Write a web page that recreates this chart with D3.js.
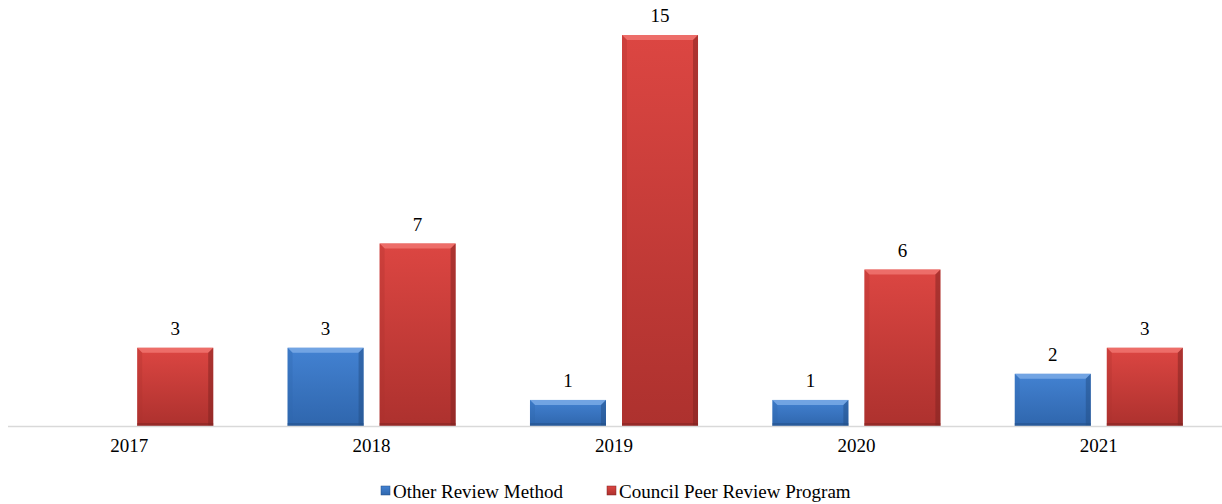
<!DOCTYPE html>
<html>
<head>
<meta charset="utf-8">
<script src="https://cdn.jsdelivr.net/npm/d3@7"></script>
<style>
  body { margin: 0; background: #fff; }
</style>
</head>
<body>
<script>
// values
const years = ["2017", "2018", "2019", "2020", "2021"];
const seriesNames = ["Other Review Method", "Council Peer Review Program"];
const otherReview = [0, 3, 1, 1, 2];
const councilPeer = [3, 7, 15, 6, 3];

const W = 1222, H = 504;
const FONT = "'Liberation Serif', 'Times New Roman', Times, serif";
const svg = d3.select("body").append("svg").attr("width", W).attr("height", H)
  .style("font-family", FONT);

// colours per series
const pal = [
  { light: "#7aaae6", mid: "#4382d2", dark: "#2f66ad", edge: "#224d85" },
  { light: "#f07470", mid: "#dc4642", dark: "#ad312e", edge: "#7e2220" }
];

const defs = svg.append("defs");
pal.forEach((p, i) => {
  const g = defs.append("linearGradient").attr("id", "g" + i)
    .attr("x1", 0).attr("y1", 0).attr("x2", 0).attr("y2", 1);
  g.append("stop").attr("offset", "0%").attr("stop-color", p.mid);
  g.append("stop").attr("offset", "100%").attr("stop-color", p.dark);
});

const x0 = d3.scaleBand().domain(years).range([8, 1220]);
const x1 = d3.scaleBand().domain([0, 1]).range([0, x0.bandwidth()]).paddingInner(0.174).paddingOuter(0.404);
const y = d3.scaleLinear().domain([0, 15]).range([426, 35]);

const data = [];
years.forEach((yr, i) => {
  [otherReview[i], councilPeer[i]].forEach((v, s) => {
    if (v > 0) data.push({ yr, s, v });
  });
});

const bars = svg.append("g").selectAll("g").data(data).join("g")
  .attr("transform", d => `translate(${x0(d.yr) + x1(d.s)},${y(d.v)})`);

const bw = x1.bandwidth();
const bev = 5;
bars.each(function (d) {
  const g = d3.select(this);
  const h = y(0) - y(d.v);
  const p = pal[d.s];
  g.append("rect").attr("width", bw).attr("height", h).attr("fill", `url(#g${d.s})`);
  // top bevel
  g.append("polygon").attr("points", `0,0 ${bw},0 ${bw - bev},${bev} ${bev},${bev}`)
    .attr("fill", p.light).attr("opacity", 0.85);
  // left bevel
  g.append("polygon").attr("points", `0,0 ${bev},${bev} ${bev},${h} 0,${h}`)
    .attr("fill", p.dark).attr("opacity", 0.3);
  // right bevel
  g.append("polygon").attr("points", `${bw},0 ${bw},${h} ${bw - bev},${h} ${bw - bev},${bev}`)
    .attr("fill", p.edge).attr("opacity", 0.5);
  // bottom edge
  g.append("rect").attr("x", 0).attr("y", h - 3).attr("width", bw).attr("height", 3)
    .attr("fill", p.edge).attr("opacity", 0.5);
  g.append("text").attr("x", bw / 2).attr("y", -13)
    .attr("text-anchor", "middle").attr("font-size", 19).attr("fill", "#000").text(d.v);
});

// baseline
svg.append("line").attr("x1", 8).attr("x2", 1222).attr("y1", 426.5).attr("y2", 426.5)
  .attr("stroke", "#d9d9d9").attr("stroke-width", 1.5);

// x axis labels
const xAxis = svg.append("g").attr("transform", "translate(0,427)")
  .call(d3.axisBottom(x0).tickSize(0).tickPadding(12));
xAxis.select(".domain").remove();
xAxis.attr("font-family", FONT).attr("font-size", 19);
xAxis.selectAll("text").attr("fill", "#000");

// legend
const legX = [381, 607];
const leg = svg.append("g").selectAll("g").data(seriesNames).join("g")
  .attr("transform", (d, i) => `translate(${legX[i]},486)`);
leg.append("rect").attr("width", 9).attr("height", 9).attr("fill", (d, i) => `url(#g${i})`)
  .attr("stroke", (d, i) => pal[i].edge).attr("stroke-width", 0.5);
leg.append("text").attr("x", 12).attr("y", 12).attr("font-size", 19).attr("fill", "#000").text(d => d);
</script>
</body>
</html>
